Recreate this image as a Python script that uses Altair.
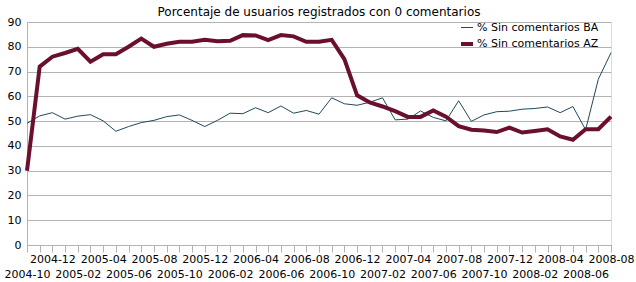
import altair as alt
import pandas as pd

months = []
y, m = 2004, 10
for _ in range(47):
    months.append(f"{y}-{m:02d}")
    m += 1
    if m > 12:
        m = 1
        y += 1

ba = [49.1, 52.1, 53.4, 50.8, 52.0, 52.6, 50.1, 45.9, 47.8, 49.4, 50.3, 51.8,
      52.5, 50.3, 47.8, 50.3, 53.2, 53.0, 55.4, 53.4, 56.1, 53.2, 54.3, 52.8,
      59.4, 57.0, 56.4, 57.6, 59.4, 50.5, 50.8, 54.1, 51.5, 50.1, 58.2, 49.9,
      52.5, 53.8, 54.0, 54.8, 55.1, 55.7, 53.4, 55.9, 46.5, 66.9, 77.6]
az = [30.0, 72.0, 76.0, 77.5, 79.2, 74.0, 77.0, 77.0, 80.0, 83.3, 80.0, 81.2,
      82.0, 82.0, 82.8, 82.2, 82.4, 84.7, 84.6, 82.7, 84.7, 84.2, 82.0, 82.0,
      82.8, 75.0, 60.4, 57.5, 55.9, 54.0, 51.7, 51.7, 54.3, 51.8, 48.0, 46.5,
      46.2, 45.6, 47.4, 45.4, 46.0, 46.7, 43.8, 42.5, 46.7, 46.7, 51.8]

series_names = ["% Sin comentarios BA", "% Sin comentarios AZ"]
colors = ["#1f4a5c", "#6b0f2f"]
widths = [1, 4]

rows = []
for name, vals in zip(series_names, [ba, az]):
    for mo, v in zip(months, vals):
        rows.append({"mes": mo, "valor": v, "serie": name})
df = pd.DataFrame(rows)

FONT = "DejaVu Sans"

label_expr = (
    "toNumber(slice(datum.value,5,7)) % 2 == 1 ? '' : "
    "(toNumber(slice(datum.value,5,7)) % 4 == 0 ? [datum.value] : ['', datum.value])"
)

legend_opts = dict(title=None, orient="none", legendX=432, legendY=-1,
                   symbolType="stroke", symbolSize=144,
                   labelFont=FONT, labelFontSize=11, labelColor="#000000",
                   rowPadding=3, labelOffset=2, padding=0)

chart = alt.Chart(df).mark_line().encode(
    x=alt.X("mes:O", scale=alt.Scale(type="point", padding=0),
            axis=alt.Axis(title=None, labelAngle=0, labelExpr=label_expr,
                          labelOverlap=False, labelBound=False, labelFlush=False,
                          labelLineHeight=15, labelPadding=1, tickSize=7,
                          tickColor="#b3b3b3", domainColor="#b3b3b3",
                          labelFont=FONT, labelFontSize=11, labelColor="#000000",
                          labelBaseline="top", grid=False)),
    y=alt.Y("valor:Q", scale=alt.Scale(domain=[0, 90], nice=False),
            axis=alt.Axis(title=None, values=list(range(0, 91, 10)), tickSize=0,
                          labelPadding=6, domainColor="#b3b3b3", gridColor="#b3b3b3",
                          labelFont=FONT, labelFontSize=11, labelColor="#000000")),
    color=alt.Color("serie:N", scale=alt.Scale(domain=series_names, range=colors),
                    legend=alt.Legend(**legend_opts)),
    strokeWidth=alt.StrokeWidth("serie:N", scale=alt.Scale(domain=series_names, range=widths),
                                legend=alt.Legend(**legend_opts)),
    order=alt.Order("serie:N", sort="descending"),
).properties(
    width=584, height=223,
    title=alt.TitleParams("Porcentaje de usuarios registrados con 0 comentarios",
                          font=FONT, fontSize=12, fontWeight="normal", color="#000000",
                          offset=0, dy=3),
    autosize=alt.AutoSizeParams(type="none"),
    padding={"left": 27, "top": 22, "right": 25, "bottom": 37},
).configure_view(stroke="#b3b3b3").configure(background="#ffffff")

chart.save("out.html", embed_options={"renderer": "svg", "actions": False})
